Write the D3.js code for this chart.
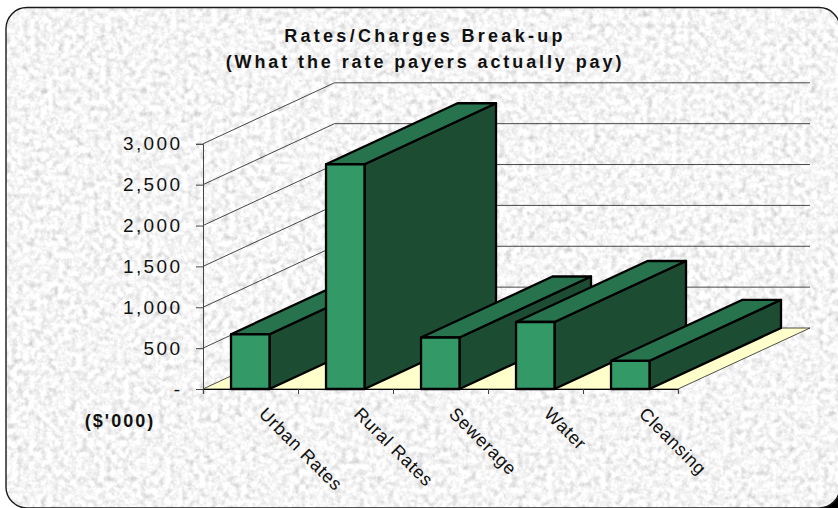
<!DOCTYPE html>
<html><head><meta charset="utf-8">
<script src="https://cdn.jsdelivr.net/npm/d3@7"></script>
<style>
html,body{margin:0;padding:0;background:#fff;}
svg{display:block;font-family:"Liberation Sans",Arial,sans-serif;}
</style></head><body><div id="chart"></div>
<script>
const categories = ["Urban Rates","Rural Rates","Sewerage","Water","Cleansing"];
const values = [670,2750,630,820,345];
const yTicks = [0,500,1000,1500,2000,2500,3000];
const titleLines = ["Rates/Charges Break-up","(What the rate payers actually pay)"];
const unitLabel = "($'000)";

const W=838,H=508;
const svg=d3.select("#chart").append("svg").attr("width",W).attr("height",H);
const defs=svg.append("defs");
const f=defs.append("filter").attr("id","granite").attr("x",0).attr("y",0).attr("width","100%").attr("height","100%")
  .attr("color-interpolation-filters","sRGB");
f.append("feTurbulence").attr("type","fractalNoise").attr("baseFrequency",0.17).attr("numOctaves",3).attr("seed",7);
f.append("feColorMatrix").attr("values","0.24 0.24 0 0 0.72  0.24 0.24 0 0 0.72  0.24 0.24 0 0 0.72  0 0 0 0 1");
const panelBox={x:6,y:7.5,width:834,height:500.5,rx:21};
const addPanel=(sel)=>sel.attr("x",panelBox.x).attr("y",panelBox.y).attr("width",panelBox.width).attr("height",panelBox.height).attr("rx",panelBox.rx);
// dark wedge behind the lower-right corner
svg.append("rect").attr("x",W-20).attr("y",H-20).attr("width",20).attr("height",20).attr("fill","#000");
defs.append("clipPath").attr("id","pclip").call(s=>addPanel(s.append("rect")));
svg.append("g").attr("clip-path","url(#pclip)").append("rect").attr("width",W).attr("height",H)
  .attr("fill","#e8e8e8").attr("filter","url(#granite)");
addPanel(svg.append("rect")).attr("fill","none").attr("stroke","#1a1a1a").attr("stroke-width",1.4);

// Scales
const x=d3.scaleBand().domain(categories).range([203,678]).paddingInner(0).paddingOuter(0);
const y=d3.scaleLinear().domain([0,3000]).range([389,143.8]);
const depthX=d3.scaleLinear().domain([0,1]).range([0,131.5]);
const depthY=d3.scaleLinear().domain([0,1]).range([0,-61]);
const pt=(px,py,d)=>[px+depthX(d),py+depthY(d)];
const poly=a=>a.map(p=>p.join(",")).join(" ");
const x0=x.range()[0],x1=x.range()[1],backRight=810;

// Floor
svg.append("polygon").attr("points",poly([pt(x0,y(0),0),pt(x0,y(0),1),[backRight,y(0)+depthY(1)],pt(x1,y(0),0)]))
  .attr("fill","#ffffcc").attr("stroke","#222").attr("stroke-width",0.8);
// Gridlines
svg.append("g").selectAll("path").data(yTicks.filter(t=>t>0)).join("path")
  .attr("d",t=>{const a=pt(x0,y(t),0),b=pt(x0,y(t),1);return `M${a}L${b}L${backRight},${b[1]}`;})
  .attr("fill","none").attr("stroke","#333").attr("stroke-width",0.9);

// Bars
const barW=x.bandwidth()*0.405, barOff=x.bandwidth()*0.295;
const bars=svg.append("g").selectAll("g").data(categories).join("g");
const sw=2.3;
bars.each(function(c,i){
  const g=d3.select(this),l=x(c)+barOff,r=l+barW,t=y(values[i]),b=y(0);
  const st=a=>a.attr("stroke","#000").attr("stroke-width",sw).attr("stroke-linejoin","round");
  st(g.append("polygon").attr("points",poly([[r,t],[r,b],pt(r,b,1),pt(r,t,1)])).attr("fill","#1c4d33"));
  st(g.append("polygon").attr("points",poly([[l,t],[r,t],pt(r,t,1),pt(l,t,1)])).attr("fill","#26734d"));
  st(g.append("rect").attr("x",l).attr("y",t).attr("width",barW).attr("height",b-t).attr("fill","#339966"));
});

// Axes
const yAxis=svg.append("g").attr("transform",`translate(${x0},0)`)
  .call(d3.axisLeft(y).tickValues(yTicks).tickSizeOuter(0).tickSize(7).tickPadding(13.5).tickFormat(v=>v===0?"-":d3.format(",")(v)));
yAxis.selectAll("path,line").attr("stroke","#444");
yAxis.selectAll("text").attr("font-size",19).attr("letter-spacing","2.4px").attr("fill","#111").attr("font-family","inherit");
const xAxis=svg.append("g").attr("transform",`translate(0,${y(0)})`)
  .call(d3.axisBottom(d3.scaleLinear().domain([0,5]).range([x0,x1])).ticks(5).tickSizeOuter(0).tickSize(5).tickFormat(""));
xAxis.selectAll("path").attr("stroke","#000").attr("stroke-width",1.2);
xAxis.selectAll("line").attr("stroke","#444");
svg.append("g").selectAll("text").data(categories).join("text")
  .attr("transform",c=>`translate(${x(c)+x.bandwidth()*0.58},${y(0)+26}) rotate(45)`)
  .attr("font-size",18).attr("fill","#111").attr("letter-spacing","0.7px").text(c=>c);

// Titles
svg.append("g").selectAll("text").data(titleLines).join("text")
  .attr("x",425).attr("y",(d,i)=>41.5+i*26).attr("text-anchor","middle")
  .attr("font-size",18).attr("font-weight","bold").attr("letter-spacing",(d,i)=>i?"2.9px":"3.3px").attr("fill","#111").text(d=>d);
svg.append("text").attr("x",120).attr("y",427).attr("text-anchor","middle")
  .attr("font-size",18).attr("font-weight","bold").attr("letter-spacing","2px").attr("fill","#111").text(unitLabel);
</script></body></html>
